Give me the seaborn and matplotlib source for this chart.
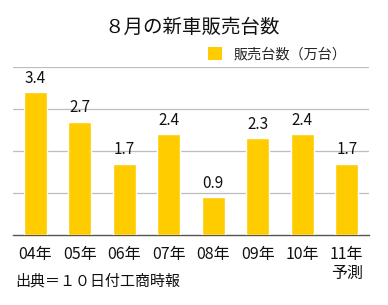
import matplotlib
matplotlib.use("Agg")
import matplotlib.pyplot as plt
from matplotlib.patches import Patch
import seaborn as sns
import pandas as pd

categories = ["04年", "05年", "06年", "07年", "08年", "09年", "10年", "11年\n予測"]
values = [3.4, 2.7, 1.7, 2.4, 0.9, 2.3, 2.4, 1.7]
title = "８月の新車販売台数"
legend_label = "販売台数（万台）"
source = "出典＝１０日付工商時報"

sns.set_theme(style="white")
plt.rcParams["font.family"] = ["Noto Sans CJK JP", "DejaVu Sans"]

bar_color = "#FFCC00"
df = pd.DataFrame({"cat": categories, "val": values})

fig = plt.figure(figsize=(3.88, 3.05), dpi=100)
ax = fig.add_axes([13/388, 1-235/305, (369-13)/388, (235-67)/305])

sns.barplot(data=df, x="cat", y="val", color=bar_color, saturation=1,
            width=0.52, ax=ax, zorder=3)

ax.set_ylim(0, 4)
ax.set_xlim(-0.5, len(categories) - 0.5)
ax.set_yticks([1, 2, 3, 4])
ax.yaxis.grid(True, color="#bdbdbd", linewidth=0.9)
ax.set_axisbelow(True)
ax.tick_params(axis="y", left=False, labelleft=False)
ax.tick_params(axis="x", length=0, pad=8, labelsize=11.5, colors="#111111")
for lbl in ax.get_xticklabels():
    lbl.set_linespacing(1.15)
ax.set_xlabel("")
ax.set_ylabel("")
for s in ["left", "right", "top"]:
    ax.spines[s].set_visible(False)
ax.spines["bottom"].set_color("#555555")
ax.spines["bottom"].set_linewidth(1.0)

for c in ax.containers:
    ax.bar_label(c, labels=[f"{v:.1f}" for v in values], padding=4,
                 fontsize=11, color="#111111")

fig.text(0.495, 1-27/305, title, ha="center", va="center", fontsize=14,
         color="#111111")

handle = Patch(facecolor=bar_color, edgecolor="none", label=legend_label)
fig.legend(handles=[handle], loc="center left",
           bbox_to_anchor=(208/388, 1-54/305), frameon=False,
           handlelength=1.0, handleheight=1.0, handletextpad=0.8,
           borderpad=0, borderaxespad=0, fontsize=10.2)

fig.text(15/388, 1-281/305, source, ha="left", va="center", fontsize=10.8,
         color="#111111")

fig.savefig("out.png", dpi=100)
